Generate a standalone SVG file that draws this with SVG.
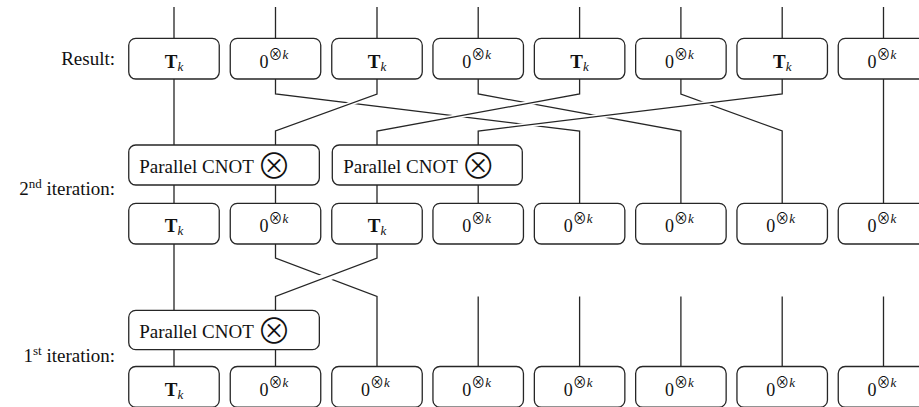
<svg xmlns="http://www.w3.org/2000/svg" width="919" height="407" viewBox="0 0 919 407">
<style>
.box{fill:#fff;stroke:#262626;stroke-width:1.3}
.w{fill:none;stroke:#262626;stroke-width:1.3}
.halo{fill:none;stroke:#fff;stroke-width:4.5;stroke-linecap:butt}
.lbl{font-family:"Liberation Serif","Times New Roman",serif;font-size:19px;fill:#111}
.m{font-family:"Liberation Serif","DejaVu Serif",serif;font-size:18px;fill:#111;text-anchor:middle}
.t{font-weight:bold;font-size:19px}
.sub{font-size:13px;font-style:italic}
.op{font-family:"Noto Sans CJK JP","DejaVu Sans",sans-serif;font-size:14px}
.ot{font-family:"Noto Sans CJK JP","DejaVu Sans",sans-serif;font-size:35px;font-weight:300;fill:#111;text-anchor:middle}
</style>
<rect width="919" height="407" fill="#fff"/>
<g id="connectors">
<path class="w" d="M174,7V38.3M275.5,7V38.3M377,7V38.3M478.2,7V38.3M579.6,7V38.3M680.9,7V38.3M782.2,7V38.3M883.5,7V38.3"/>
<path class="w" d="M275.5,79V94L579.6,131V203.3M478.2,79V94L680.9,131V203.3M680.9,79V94L782.2,131V203.3"/>
<path class="w" d="M174,79V145M883.5,79V203.3"/>
<path class="halo" d="M377,94L275.5,131M579.6,94L377,131M782.2,94L478.2,131"/>
<path class="w" d="M377,79V94L275.5,131V145M579.6,79V94L377,131V145M782.2,79V94L478.2,131V145"/>
<path class="w" d="M174,185V203.3M275.5,185V203.3M377,185V203.3M478.2,185V203.3"/>
<path class="w" d="M174,243.3V310.3M275.5,243.3V258L377,296.5V366.5"/>
<path class="halo" style="stroke-width:8.5" d="M377,258L275.5,296.5"/>
<path class="w" d="M377,243.3V258L275.5,296.5V310.3"/>
<path class="w" d="M478.2,296.5V366.5M579.6,296.5V366.5M680.9,296.5V366.5M782.2,296.5V366.5M883.5,296.5V366.5"/>
<path class="w" d="M174,349.7V366.5M275.5,349.7V366.5"/>
</g>
<g id="labels">
<text class="lbl" x="115" y="65" text-anchor="end">Result:</text>
<text class="lbl" x="115" y="195" text-anchor="end">2<tspan font-size="13" dy="-7">nd</tspan><tspan dy="7"> iteration:</tspan></text>
<text class="lbl" x="115" y="362" text-anchor="end">1<tspan font-size="13" dy="-7">st</tspan><tspan dy="7"> iteration:</tspan></text>
</g>
<g id="r3c1"><rect class="box" x="128.75" y="38.3" width="90.5" height="40.7" rx="7"/><text class="m" x="174" y="67.5"><tspan class="t">T</tspan><tspan class="sub" dy="3">k</tspan></text></g>
<g id="r3c2"><rect class="box" x="230.25" y="38.3" width="90.5" height="40.7" rx="7"/><text class="m" x="274" y="67.5">0<tspan class="op" dy="-9">⊗</tspan><tspan class="sub">k</tspan></text></g>
<g id="r3c3"><rect class="box" x="331.75" y="38.3" width="90.5" height="40.7" rx="7"/><text class="m" x="377" y="67.5"><tspan class="t">T</tspan><tspan class="sub" dy="3">k</tspan></text></g>
<g id="r3c4"><rect class="box" x="432.95" y="38.3" width="90.5" height="40.7" rx="7"/><text class="m" x="476.7" y="67.5">0<tspan class="op" dy="-9">⊗</tspan><tspan class="sub">k</tspan></text></g>
<g id="r3c5"><rect class="box" x="534.35" y="38.3" width="90.5" height="40.7" rx="7"/><text class="m" x="579.6" y="67.5"><tspan class="t">T</tspan><tspan class="sub" dy="3">k</tspan></text></g>
<g id="r3c6"><rect class="box" x="635.65" y="38.3" width="90.5" height="40.7" rx="7"/><text class="m" x="679.4" y="67.5">0<tspan class="op" dy="-9">⊗</tspan><tspan class="sub">k</tspan></text></g>
<g id="r3c7"><rect class="box" x="736.95" y="38.3" width="90.5" height="40.7" rx="7"/><text class="m" x="782.2" y="67.5"><tspan class="t">T</tspan><tspan class="sub" dy="3">k</tspan></text></g>
<g id="r3c8"><rect class="box" x="838.25" y="38.3" width="90.5" height="40.7" rx="7"/><text class="m" x="882" y="67.5">0<tspan class="op" dy="-9">⊗</tspan><tspan class="sub">k</tspan></text></g>
<g id="cnot2a"><rect class="box" x="128.75" y="145" width="190.6" height="40" rx="7"/><text class="lbl" x="139.3" y="172.5">Parallel CNOT</text><text class="ot" x="274" y="178.5">⊗</text></g>
<g id="cnot2b"><rect class="box" x="332.3" y="145" width="190" height="40" rx="7"/><text class="lbl" x="343.3" y="172.5">Parallel CNOT</text><text class="ot" x="478.2" y="178.5">⊗</text></g>
<g id="r2c1"><rect class="box" x="128.75" y="203.3" width="90.5" height="40.7" rx="7"/><text class="m" x="174" y="232"><tspan class="t">T</tspan><tspan class="sub" dy="3">k</tspan></text></g>
<g id="r2c2"><rect class="box" x="230.25" y="203.3" width="90.5" height="40.7" rx="7"/><text class="m" x="274" y="232">0<tspan class="op" dy="-9">⊗</tspan><tspan class="sub">k</tspan></text></g>
<g id="r2c3"><rect class="box" x="331.75" y="203.3" width="90.5" height="40.7" rx="7"/><text class="m" x="377" y="232"><tspan class="t">T</tspan><tspan class="sub" dy="3">k</tspan></text></g>
<g id="r2c4"><rect class="box" x="432.95" y="203.3" width="90.5" height="40.7" rx="7"/><text class="m" x="476.7" y="232">0<tspan class="op" dy="-9">⊗</tspan><tspan class="sub">k</tspan></text></g>
<g id="r2c5"><rect class="box" x="534.35" y="203.3" width="90.5" height="40.7" rx="7"/><text class="m" x="578.1" y="232">0<tspan class="op" dy="-9">⊗</tspan><tspan class="sub">k</tspan></text></g>
<g id="r2c6"><rect class="box" x="635.65" y="203.3" width="90.5" height="40.7" rx="7"/><text class="m" x="679.4" y="232">0<tspan class="op" dy="-9">⊗</tspan><tspan class="sub">k</tspan></text></g>
<g id="r2c7"><rect class="box" x="736.95" y="203.3" width="90.5" height="40.7" rx="7"/><text class="m" x="780.7" y="232">0<tspan class="op" dy="-9">⊗</tspan><tspan class="sub">k</tspan></text></g>
<g id="r2c8"><rect class="box" x="838.25" y="203.3" width="90.5" height="40.7" rx="7"/><text class="m" x="882" y="232">0<tspan class="op" dy="-9">⊗</tspan><tspan class="sub">k</tspan></text></g>
<g id="cnot1"><rect class="box" x="128.75" y="310.3" width="190.6" height="39.4" rx="7"/><text class="lbl" x="139.3" y="337.7">Parallel CNOT</text><text class="ot" x="274" y="343.5">⊗</text></g>
<g id="r1c1"><rect class="box" x="128.75" y="366.5" width="90.5" height="40.7" rx="7"/><text class="m" x="174" y="395.5"><tspan class="t">T</tspan><tspan class="sub" dy="3">k</tspan></text></g>
<g id="r1c2"><rect class="box" x="230.25" y="366.5" width="90.5" height="40.7" rx="7"/><text class="m" x="274" y="395.5">0<tspan class="op" dy="-9">⊗</tspan><tspan class="sub">k</tspan></text></g>
<g id="r1c3"><rect class="box" x="331.75" y="366.5" width="90.5" height="40.7" rx="7"/><text class="m" x="375.5" y="395.5">0<tspan class="op" dy="-9">⊗</tspan><tspan class="sub">k</tspan></text></g>
<g id="r1c4"><rect class="box" x="432.95" y="366.5" width="90.5" height="40.7" rx="7"/><text class="m" x="476.7" y="395.5">0<tspan class="op" dy="-9">⊗</tspan><tspan class="sub">k</tspan></text></g>
<g id="r1c5"><rect class="box" x="534.35" y="366.5" width="90.5" height="40.7" rx="7"/><text class="m" x="578.1" y="395.5">0<tspan class="op" dy="-9">⊗</tspan><tspan class="sub">k</tspan></text></g>
<g id="r1c6"><rect class="box" x="635.65" y="366.5" width="90.5" height="40.7" rx="7"/><text class="m" x="679.4" y="395.5">0<tspan class="op" dy="-9">⊗</tspan><tspan class="sub">k</tspan></text></g>
<g id="r1c7"><rect class="box" x="736.95" y="366.5" width="90.5" height="40.7" rx="7"/><text class="m" x="780.7" y="395.5">0<tspan class="op" dy="-9">⊗</tspan><tspan class="sub">k</tspan></text></g>
<g id="r1c8"><rect class="box" x="838.25" y="366.5" width="90.5" height="40.7" rx="7"/><text class="m" x="882" y="395.5">0<tspan class="op" dy="-9">⊗</tspan><tspan class="sub">k</tspan></text></g>
</svg>
